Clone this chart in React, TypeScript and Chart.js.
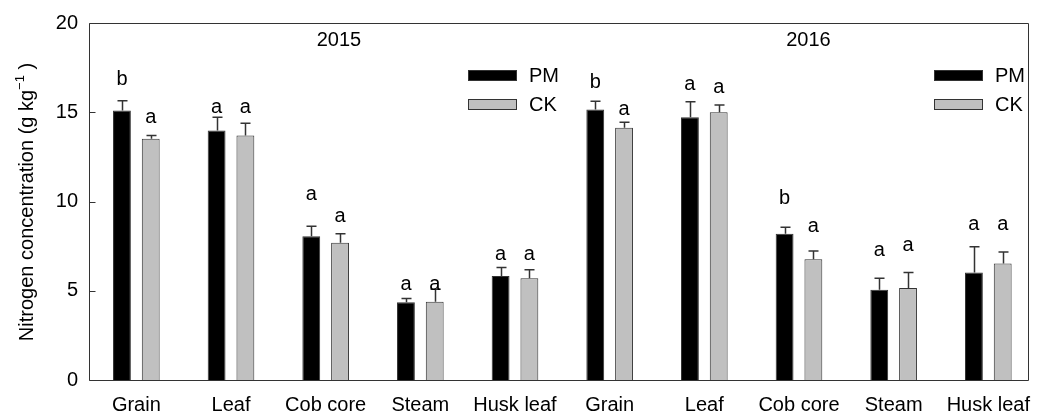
import React, { useEffect, useRef } from "react";
import { Chart, registerables } from "chart.js";

Chart.register(...registerables);

const categories = ["Grain", "Leaf", "Cob core", "Steam", "Husk leaf", "Grain", "Leaf", "Cob core", "Steam", "Husk leaf"];
const pmValues = [15.1, 13.98, 8.06, 4.35, 5.83, 15.15, 14.72, 8.2, 5.06, 6.02];
const pmErrors = [0.55, 0.74, 0.55, 0.22, 0.47, 0.46, 0.87, 0.36, 0.64, 1.44];
const ckValues = [13.52, 13.7, 7.69, 4.39, 5.7, 14.13, 15.0, 6.76, 5.15, 6.52];
const ckErrors = [0.18, 0.69, 0.51, 0.7, 0.47, 0.31, 0.41, 0.46, 0.87, 0.65];
const pmLetters = ["b", "a", "a", "a", "a", "b", "a", "b", "a", "a"];
const ckLetters = ["a", "a", "a", "a", "a", "a", "a", "a", "a", "a"];
const pmLetterY = [16.94, 15.28, 10.39, 5.37, 7.04, 16.76, 16.54, 10.28, 7.28, 8.7];
const ckLetterY = [14.72, 15.28, 9.17, 5.37, 7.04, 15.15, 16.39, 8.61, 7.56, 8.7];
const yearLabels = ["2015", "2016"];
const yearPositions = [2.14, 7.1];
const seriesNames = ["PM", "CK"];
const yTicks = [0, 5, 10, 15, 20];

const FONT = '"Liberation Sans", Arial, Helvetica, sans-serif';
const AXIS = "#333333";
const PM_COLOR = "#000000";
const CK_COLOR = "#c0c0c0";

const overlayPlugin = {
  id: "overlay",
  afterDatasetsDraw(chart: any) {
    const ctx = chart.ctx;
    const area = chart.chartArea;
    const xs = chart.scales.x;
    const ys = chart.scales.y;
    const step = xs.getPixelForValue(1) - xs.getPixelForValue(0);
    const frameRight = Math.round(xs.getPixelForValue(9) + step * 0.42) + 0.5;
    const left = Math.round(area.left) + 0.5;
    const top = Math.round(area.top) + 0.5;
    const bottom = Math.round(area.bottom) + 0.5;

    ctx.save();
    // error bars
    const errs = [pmErrors, ckErrors];
    const vals = [pmValues, ckValues];
    ctx.strokeStyle = AXIS;
    ctx.lineWidth = 1.5;
    for (let d = 0; d < 2; d++) {
      const meta = chart.getDatasetMeta(d);
      meta.data.forEach((bar: any, i: number) => {
        const x = Math.round(bar.x) + 0.5;
        const y0 = bar.y;
        const y1 = ys.getPixelForValue(vals[d][i] + errs[d][i]);
        ctx.beginPath();
        ctx.moveTo(x, y0);
        ctx.lineTo(x, y1);
        ctx.moveTo(x - 5, y1);
        ctx.lineTo(x + 5, y1);
        ctx.stroke();
      });
    }

    // letters
    ctx.fillStyle = "#000";
    ctx.font = `20px ${FONT}`;
    ctx.textAlign = "center";
    ctx.textBaseline = "alphabetic";
    const letters = [pmLetters, ckLetters];
    const letterY = [pmLetterY, ckLetterY];
    for (let d = 0; d < 2; d++) {
      const meta = chart.getDatasetMeta(d);
      meta.data.forEach((bar: any, i: number) => {
        const t = letters[d][i];
        const m = ctx.measureText(t);
        const cy = ys.getPixelForValue(letterY[d][i]);
        ctx.fillText(t, bar.x, cy + m.actualBoundingBoxAscent / 2);
      });
    }

    // year labels
    yearLabels.forEach((lab, i) => {
      const x = xs.getPixelForValue(0) + yearPositions[i] * step;
      ctx.textBaseline = "middle";
      ctx.fillText(lab, x, top + 17);
    });

    // legends
    const legendLefts = [area.left + 379, area.left + 845];
    const colors = [PM_COLOR, CK_COLOR];
    legendLefts.forEach((lx) => {
      seriesNames.forEach((name, j) => {
        const cy = 75 + j * 29;
        ctx.fillStyle = colors[j];
        ctx.fillRect(lx, cy - 5, 48, 10);
        ctx.strokeStyle = AXIS;
        ctx.lineWidth = 1;
        ctx.strokeRect(Math.round(lx) + 0.5, Math.round(cy - 5) + 0.5, 48, 10);
        ctx.fillStyle = "#000";
        ctx.textAlign = "left";
        ctx.textBaseline = "middle";
        ctx.fillText(name, lx + 61, cy + 1);
      });
    });

    // frame
    ctx.strokeStyle = AXIS;
    ctx.lineWidth = 1;
    ctx.beginPath();
    ctx.moveTo(left, top);
    ctx.lineTo(frameRight, top);
    ctx.lineTo(frameRight, bottom);
    ctx.lineTo(left, bottom);
    ctx.closePath();
    ctx.stroke();

    // inward y ticks
    yTicks.forEach((v) => {
      const y = Math.round(ys.getPixelForValue(v)) + 0.5;
      ctx.beginPath();
      ctx.moveTo(left, y);
      ctx.lineTo(left + 6, y);
      ctx.stroke();
    });

    // y-axis title with superscript
    ctx.save();
    ctx.translate(33, (top + bottom) / 2);
    ctx.rotate(-Math.PI / 2);
    ctx.fillStyle = "#000";
    ctx.textAlign = "left";
    ctx.textBaseline = "alphabetic";
    const main = "Nitrogen concentration (g kg";
    const sup = "\u22121";
    const tail = " )";
    ctx.font = `20px ${FONT}`;
    const wMain = ctx.measureText(main).width;
    const wTail = ctx.measureText(tail).width;
    ctx.font = `13px ${FONT}`;
    const wSup = ctx.measureText(sup).width;
    const total = wMain + wSup + wTail;
    let x0 = -total / 2;
    ctx.font = `20px ${FONT}`;
    ctx.fillText(main, x0, 0);
    x0 += wMain;
    ctx.font = `13px ${FONT}`;
    ctx.fillText(sup, x0, -9);
    x0 += wSup;
    ctx.font = `20px ${FONT}`;
    ctx.fillText(tail, x0, 0);
    ctx.restore();

    ctx.restore();
  },
};

export default function App() {
  const ref = useRef<HTMLCanvasElement | null>(null);
  useEffect(() => {
    document.body.style.margin = "0";
    const canvas = ref.current;
    if (!canvas) return;
    const chart = new Chart(canvas, {
      type: "bar",
      data: {
        labels: categories,
        datasets: [
          {
            label: seriesNames[0],
            data: pmValues,
            backgroundColor: PM_COLOR,
            borderColor: AXIS,
            borderWidth: 1,
          },
          {
            label: seriesNames[1],
            data: ckValues,
            backgroundColor: CK_COLOR,
            borderColor: AXIS,
            borderWidth: 1,
          },
        ],
      },
      options: {
        responsive: false,
        animation: false,
        devicePixelRatio: 1,
        layout: { padding: { left: 0, right: 0, top: 20, bottom: 0 } },
        datasets: { bar: { categoryPercentage: 0.608, barPercentage: 0.62 } },
        plugins: { legend: { display: false }, title: { display: false }, tooltip: { enabled: false } },
        scales: {
          x: {
            grid: { display: false, drawTicks: false },
            border: { display: false },
            ticks: {
              autoSkip: false,
              maxRotation: 0,
              padding: 13,
              color: "#000",
              font: { family: FONT, size: 20 },
            },
            afterFit: (s: any) => {
              s.height = 36;
            },
          },
          y: {
            min: 0,
            max: 20,
            grid: { display: false, drawTicks: false },
            border: { display: false },
            ticks: {
              stepSize: 5,
              padding: 11,
              color: "#000",
              font: { family: FONT, size: 20 },
            },
            afterFit: (s: any) => {
              s.width = 89;
            },
          },
        },
      },
      plugins: [overlayPlugin],
    });
    return () => chart.destroy();
  }, []);
  return <canvas ref={ref} width={1043} height={416} style={{ display: "block" }} />;
}
